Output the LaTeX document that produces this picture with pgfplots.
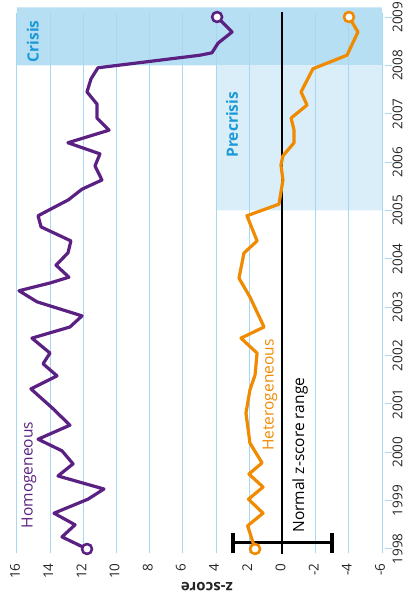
\documentclass[border=0pt]{standalone}
\usepackage{fontspec}
\setmainfont{Open Sans}
\usepackage{pgfplots}
\pgfplotsset{compat=1.18}
\definecolor{purp}{HTML}{5B2182}
\definecolor{orng}{HTML}{F08A00}
\definecolor{crisisfill}{HTML}{B7DFF3}
\definecolor{prefill}{HTML}{D9EEF9}
\definecolor{gridblue}{HTML}{A6D8F1}
\definecolor{lblblue}{HTML}{1B9AD7}
\begin{document}
\begin{tikzpicture}
\begin{axis}[
  set layers,
  at={(0pt,0pt)}, anchor=south west,
  scale only axis, width=365pt, height=540pt,
  xmin=-6, xmax=16, x dir=reverse,
  ymin=1997.917, ymax=2009.083,
  xtick={-6,-4,...,16}, ytick={1998,...,2009},
  xmajorgrids, grid style={gridblue, line width=1pt},
  axis line style={draw=none},
  ytick pos=right, yticklabel pos=right,
  xtick style={draw=none},
  ytick style={draw=gridblue, line width=1pt, xshift=3pt},
  tick align=outside, major tick length=7pt,
  /pgf/number format/assume math mode=true,
  /pgf/number format/set thousands separator={},
  tick label style={font=\fontsize{13.5}{16}\selectfont, text=black!85},
  xticklabel style={rotate=90, anchor=east, yshift=2pt},
  yticklabel style={rotate=90, anchor=north},
]
% shaded periods
\addplot[fill=crisisfill, draw=none, on layer=axis background] coordinates {(16,2008) (-6,2008) (-6,2009.2) (16,2009.2) (16,2008)};
\addplot[fill=prefill, draw=none, on layer=axis background] coordinates {(4,2005) (-6,2005) (-6,2008) (4,2008) (4,2005)};
% zero line
\addplot[black, line width=2pt] coordinates {(0,1997.8) (0,2009.2)};
% normal range bar
\addplot[black, line width=3pt] coordinates {(3,1998.124) (-3,1998.124)};
\addplot[black, line width=4pt] coordinates {(3,1997.917) (3,1998.33)};
\addplot[black, line width=4pt] coordinates {(-3,1997.917) (-3,1998.33)};
% Homogeneous
\addplot[purp, line width=3.2pt, line join=round, mark=*, mark size=5pt,
  mark options={fill=white, line width=2.6pt}, mark indices={1,45}] coordinates {
(11.78,1998.0) (13.29,1998.25) (12.50,1998.50) (13.77,1998.74) (11.72,1999.03)
(10.76,1999.24) (13.53,1999.51) (12.62,1999.76) (13.29,2000.03) (14.73,2000.27)
(12.81,2000.56) (13.89,2000.92) (15.16,2001.31) (13.59,2001.58) (14.43,2001.83)
(14.01,2002.05) (15.10,2002.36) (12.81,2002.59) (12.08,2002.82) (14.79,2003.11)
(15.88,2003.34) (14.01,2003.50) (12.87,2003.62) (13.65,2003.87) (12.93,2004.12)
(12.75,2004.37) (14.55,2004.66) (14.73,2004.89) (12.9,2005.22) (12.08,2005.44)
(10.88,2005.63) (11.30,2005.92) (11.0,2006.17) (12.93,2006.40) (10.45,2006.66)
(11.18,2006.91) (11.18,2007.20) (11.78,2007.45) (11.54,2007.72) (11.12,2007.95)
(4.97,2008.21) (4.25,2008.26) (3.88,2008.46) (3.04,2008.69) (3.94,2009.0)
};
% Heterogeneous
\addplot[orng, line width=3.2pt, line join=round, mark=*, mark size=5pt,
  mark options={fill=white, line width=2.6pt}, mark indices={1,32}] coordinates {
(1.65,1998.0) (2.1,1998.48) (1.17,1998.74) (2.05,1999.03) (1.17,1999.28)
(2.02,1999.55) (1.23,1999.78) (1.96,2000.19) (2.20,2000.81) (1.96,2001.29)
(1.65,2001.6) (1.53,2002.05) (2.50,2002.36) (1.11,2002.59) (1.96,2003.21)
(2.62,2003.60) (2.32,2004.12) (1.53,2004.37) (2.14,2004.89) (0.21,2005.13)
(-0.03,2005.63) (0.09,2005.94) (-0.03,2006.13) (-0.70,2006.40) (-0.70,2006.66)
(-0.52,2006.91) (-1.48,2007.18) (-1.12,2007.45) (-1.84,2007.93) (-3.89,2008.21)
(-4.55,2008.69) (-4.01,2009.0)
};
\node[rotate=90, text=lblblue, font=\fontsize{15.5}{18}\selectfont\bfseries] at (axis cs:15.04,2008.5) {Crisis};
\node[rotate=90, text=lblblue, font=\fontsize{15.5}{18}\selectfont\bfseries] at (axis cs:3.04,2006.77) {Precrisis};
\node[rotate=90, text=purp, font=\fontsize{15.5}{18}\selectfont] at (axis cs:15.28,1999.53) {Homogeneous};
\node[rotate=90, text=orng, font=\fontsize{15.5}{18}\selectfont] at (axis cs:0.75,2001.18) {Heterogeneous};
\node[rotate=90, text=black, font=\fontsize{15.5}{18}\selectfont] at (axis cs:-1.06,1999.94) {Normal z-score range};
\end{axis}
\node[rotate=180, font=\fontsize{15}{18}\selectfont\bfseries, text=black!85] at (190pt,-34pt) {z-score};
\pgfresetboundingbox
\useasboundingbox (-17pt,-51pt) rectangle (393pt,553pt);
\end{tikzpicture}
\end{document}
